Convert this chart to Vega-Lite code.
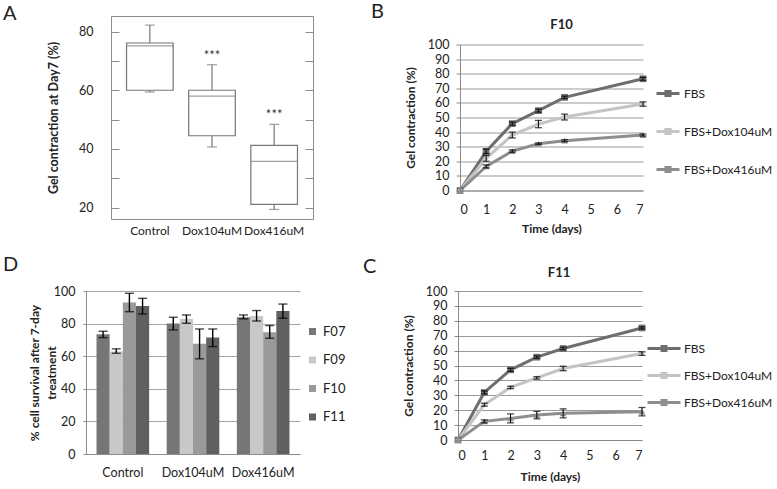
{
  "$schema": "https://vega.github.io/schema/vega-lite/v6.json",
  "padding": {"left": 2, "top": 1, "right": 0, "bottom": 0},
  "background": "white",
  "config": {
    "view": {"stroke": null},
    "font": "Lato",
    "axis": {"labelFont": "Lato", "titleFont": "Lato", "labelColor": "#222222", "titleColor": "#222222", "labelFontSize": 12.5, "titleFontSize": 12, "titleFontWeight": "bold"},
    "legend": {"labelFont": "Lato", "labelFontSize": 12, "labelColor": "#222222"},
    "title": {"font": "Lato", "color": "#222222"}
  },
  "bounds": "full",
  "align": "none",
  "spacing": 18,
  "resolve": {"scale": {"color": "independent", "shape": "independent", "x": "independent", "y": "independent"}, "legend": {"color": "independent", "shape": "independent"}},
  "vconcat": [
    {
      "hconcat": [
        {
          "width": 202,
          "height": 203,
          "view": {"stroke": "#8c8c8c", "strokeWidth": 1},
          "title": {"text": "A", "anchor": "start", "frame": "group", "align": "left", "baseline": "alphabetic", "dx": -108, "offset": 0, "dy": 24, "fontSize": 20, "fontWeight": "normal"},
          "data": {"values": [
            {"group": "Control", "min": 59.4, "q1": 60, "median": 75.1, "q3": 76.1, "max": 82.2, "sig": ""},
            {"group": "Dox104uM", "min": 40.7, "q1": 44.5, "median": 58, "q3": 60, "max": 68.7, "sig": "***"},
            {"group": "Dox416uM", "min": 19.4, "q1": 21.1, "median": 35.8, "q3": 41.2, "max": 48.4, "sig": "***"}
          ]},
          "encoding": {
            "x": {"field": "group", "type": "nominal", "sort": null, "scale": {"paddingInner": 0.25, "paddingOuter": 0.25},
              "axis": {"title": null, "domain": false, "ticks": false, "labelPadding": 6, "labelAngle": 0, "labelFontSize": 12}}
          },
          "layer": [
            {"mark": {"type": "rule", "color": "#777777", "strokeWidth": 1.2},
             "encoding": {
               "y": {"field": "min", "type": "quantitative", "scale": {"domain": [16.15, 85.3], "nice": false, "zero": false},
                 "axis": {"orient": "left", "offset": -8, "title": "Gel contraction at Day7 (%)", "titleFontSize": 12.5, "values": [20, 30, 40, 50, 60, 70, 80], "labelExpr": "datum.value % 20 === 0 ? datum.label : ''", "labelFontSize": 12.5, "tickSize": 8, "tickColor": "#8c8c8c", "domain": false, "grid": false, "labelPadding": 18, "titlePadding": 18}},
               "y2": {"field": "max"}}},
            {"mark": {"type": "bar", "fill": "white", "stroke": "#777777", "strokeWidth": 1.2},
             "encoding": {
               "y": {"field": "q1", "type": "quantitative", "axis": {"orient": "right", "offset": -8, "title": null, "values": [20, 30, 40, 50, 60, 70, 80], "labels": false, "tickSize": 8, "tickColor": "#8c8c8c", "domain": false, "grid": false}},
               "y2": {"field": "q3"}}},
            {"mark": {"type": "tick", "color": "#777777", "size": 46.6, "thickness": 1.2},
             "encoding": {"y": {"field": "median", "type": "quantitative", "axis": null}}},
            {"mark": {"type": "tick", "color": "#777777", "size": 10, "thickness": 1.2},
             "encoding": {"y": {"field": "min", "type": "quantitative", "axis": null}}},
            {"mark": {"type": "tick", "color": "#777777", "size": 10, "thickness": 1.2},
             "encoding": {"y": {"field": "max", "type": "quantitative", "axis": null}}},
            {"transform": [{"filter": "datum.sig !== ''"}],
             "mark": {"type": "text", "baseline": "alphabetic", "dy": -5, "fontSize": 13, "color": "#333333"},
             "encoding": {"y": {"field": "max", "type": "quantitative", "axis": null}, "text": {"field": "sig"}}}
          ],
          "resolve": {"axis": {"y": "independent"}}
        },
        {
          "width": 183,
          "height": 146,
          "title": {"text": "F10", "anchor": "middle", "dx": 10, "baseline": "alphabetic", "offset": 0, "dy": 3, "fontSize": 13, "fontWeight": "bold"},
          "data": {"values": [
            {"day": 0, "series": "FBS", "value": 0, "lo": 0, "hi": 0},
            {"day": 1, "series": "FBS", "value": 26.8, "lo": 25.3, "hi": 28.3},
            {"day": 2, "series": "FBS", "value": 45.8, "lo": 44.8, "hi": 46.8},
            {"day": 3, "series": "FBS", "value": 54.7, "lo": 53.7, "hi": 55.7},
            {"day": 4, "series": "FBS", "value": 63.8, "lo": 63, "hi": 64.6},
            {"day": 7, "series": "FBS", "value": 76.5, "lo": 75.5, "hi": 77.5},
            {"day": 0, "series": "FBS+Dox104uM", "value": 0, "lo": 0, "hi": 0},
            {"day": 1, "series": "FBS+Dox104uM", "value": 22, "lo": 20, "hi": 24},
            {"day": 2, "series": "FBS+Dox104uM", "value": 38, "lo": 36, "hi": 40},
            {"day": 3, "series": "FBS+Dox104uM", "value": 45.5, "lo": 43, "hi": 48},
            {"day": 4, "series": "FBS+Dox104uM", "value": 50.3, "lo": 48.3, "hi": 52.3},
            {"day": 7, "series": "FBS+Dox104uM", "value": 59.2, "lo": 57.7, "hi": 60.7},
            {"day": 0, "series": "FBS+Dox416uM", "value": 0, "lo": 0, "hi": 0},
            {"day": 1, "series": "FBS+Dox416uM", "value": 16.5, "lo": 15.5, "hi": 17.5},
            {"day": 2, "series": "FBS+Dox416uM", "value": 27, "lo": 26.2, "hi": 27.8},
            {"day": 3, "series": "FBS+Dox416uM", "value": 32, "lo": 31.5, "hi": 32.5},
            {"day": 4, "series": "FBS+Dox416uM", "value": 34.1, "lo": 33.4, "hi": 34.8},
            {"day": 7, "series": "FBS+Dox416uM", "value": 38, "lo": 37.3, "hi": 38.7}
          ]},
          "encoding": {
            "x": {"field": "day", "type": "quantitative", "scale": {"domain": [0, 7], "nice": false},
              "axis": {"title": "Time (days)", "values": [0, 1, 2, 3, 4, 5, 6, 7], "format": "d", "grid": false, "ticks": false, "domainColor": "#8a8a8a", "labelPadding": 13, "titlePadding": 7}}
          },
          "layer": [
            {"mark": {"type": "line", "strokeWidth": 3},
             "encoding": {
               "y": {"field": "value", "type": "quantitative", "scale": {"domain": [0, 100], "nice": false},
                 "axis": {"title": "Gel contraction (%)", "values": [0, 10, 20, 30, 40, 50, 60, 70, 80, 90, 100], "grid": true, "gridColor": "#9a9a9a", "domainColor": "#8a8a8a", "tickColor": "#8a8a8a", "tickSize": 4, "labelPadding": 7, "titlePadding": 10}},
               "color": {"field": "series", "type": "nominal", "sort": null,
                 "scale": {"domain": ["FBS", "FBS+Dox104uM", "FBS+Dox416uM"], "range": ["#6e6e6e", "#c4c4c4", "#8e8e8e"]},
                 "legend": {"orient": "none", "legendX": 195, "legendY": 36, "title": null, "padding": 0, "symbolType": "M-1,0H1M-0.18,-0.18H0.18V0.18H-0.18Z", "symbolSize": 529, "symbolStrokeWidth": 3, "labelOffset": 3, "rowPadding": 16}}}},
            {"transform": [{"filter": "datum.series === 'FBS'"}],
             "mark": {"type": "point", "shape": "square", "filled": true, "opacity": 1, "size": 45},
             "encoding": {"y": {"field": "value", "type": "quantitative", "axis": null},
               "color": {"field": "series", "type": "nominal", "scale": {"domain": ["FBS", "FBS+Dox104uM", "FBS+Dox416uM"], "range": ["#6e6e6e", "#c4c4c4", "#8e8e8e"]}, "legend": null}}},
            {"transform": [{"filter": "datum.series === 'FBS+Dox104uM'"}],
             "mark": {"type": "point", "shape": "diamond", "filled": true, "opacity": 1, "size": 30},
             "encoding": {"y": {"field": "value", "type": "quantitative", "axis": null},
               "color": {"field": "series", "type": "nominal", "scale": {"domain": ["FBS", "FBS+Dox104uM", "FBS+Dox416uM"], "range": ["#6e6e6e", "#c4c4c4", "#8e8e8e"]}, "legend": null}}},
            {"transform": [{"filter": "datum.series === 'FBS+Dox416uM'"}],
             "mark": {"type": "point", "shape": "triangle-up", "filled": true, "opacity": 1, "size": 45},
             "encoding": {"y": {"field": "value", "type": "quantitative", "axis": null},
               "color": {"field": "series", "type": "nominal", "scale": {"domain": ["FBS", "FBS+Dox104uM", "FBS+Dox416uM"], "range": ["#6e6e6e", "#c4c4c4", "#8e8e8e"]}, "legend": null}}},
            {"transform": [{"filter": "datum.day > 0"}],
             "mark": {"type": "rule", "color": "black", "strokeWidth": 1},
             "encoding": {"y": {"field": "lo", "type": "quantitative", "axis": null}, "y2": {"field": "hi"}}},
            {"transform": [{"filter": "datum.day > 0"}],
             "mark": {"type": "tick", "orient": "horizontal", "color": "black", "size": 7, "thickness": 1.3},
             "encoding": {"y": {"field": "lo", "type": "quantitative", "axis": null}}},
            {"transform": [{"filter": "datum.day > 0"}],
             "mark": {"type": "tick", "orient": "horizontal", "color": "black", "size": 7, "thickness": 1.3},
             "encoding": {"y": {"field": "hi", "type": "quantitative", "axis": null}}}
          ],
          "resolve": {"axis": {"y": "independent"}}
        }
      ],
      "spacing": 147,
      "bounds": "flush",
      "center": true,
      "resolve": {"scale": {"color": "independent", "shape": "independent", "x": "independent", "y": "independent"}, "legend": {"color": "independent", "shape": "independent"}},
      "title": {"text": "B", "anchor": "start", "frame": "group", "align": "left", "baseline": "alphabetic", "dx": 260, "offset": 0, "dy": 34, "fontSize": 20, "fontWeight": "normal"}
    },
    {
      "hconcat": [
        {
          "width": 189,
          "height": 163,
          "title": {"text": "D", "anchor": "start", "frame": "group", "align": "left", "baseline": "alphabetic", "dx": -108, "offset": 0, "dy": 6, "fontSize": 20, "fontWeight": "normal"},
          "data": {"values": [
            {"group": "Control", "series": "F07", "value": 73.5, "lo": 71.4, "hi": 75.3},
            {"group": "Control", "series": "F09", "value": 62.9, "lo": 61.8, "hi": 64.5},
            {"group": "Control", "series": "F10", "value": 93, "lo": 87.3, "hi": 98.6},
            {"group": "Control", "series": "F11", "value": 90.8, "lo": 85.9, "hi": 95.5},
            {"group": "Dox104uM", "series": "F07", "value": 80, "lo": 76.1, "hi": 83.9},
            {"group": "Dox104uM", "series": "F09", "value": 82.9, "lo": 80.2, "hi": 85.3},
            {"group": "Dox104uM", "series": "F10", "value": 67.6, "lo": 58.4, "hi": 76.7},
            {"group": "Dox104uM", "series": "F11", "value": 71.4, "lo": 65.9, "hi": 76.7},
            {"group": "Dox416uM", "series": "F07", "value": 83.9, "lo": 82.9, "hi": 85.3},
            {"group": "Dox416uM", "series": "F09", "value": 84.7, "lo": 81.6, "hi": 88},
            {"group": "Dox416uM", "series": "F10", "value": 74.7, "lo": 71, "hi": 78.8},
            {"group": "Dox416uM", "series": "F11", "value": 87.8, "lo": 83.3, "hi": 92}
          ]},
          "encoding": {
            "x": {"field": "group", "type": "nominal", "sort": null, "scale": {"range": [-25, 189], "paddingInner": 0.25, "paddingOuter": 0.15},
              "axis": {"title": null, "labelAngle": 0, "ticks": false, "domainColor": "#8c8c8c", "labelPadding": 12, "labelFontSize": 12.5}},
            "xOffset": {"field": "series", "type": "nominal", "sort": null, "scale": {"paddingInner": 0, "paddingOuter": 0}}
          },
          "layer": [
            {"mark": {"type": "bar"},
             "encoding": {
               "y": {"field": "value", "type": "quantitative", "scale": {"domain": [0, 100], "nice": false},
                 "axis": {"offset": 25, "title": ["% cell survival after 7-day", "treatment"], "titleLineHeight": 17, "values": [0, 20, 40, 60, 80, 100], "grid": true, "gridColor": "#a6a6a6", "domainColor": "#8c8c8c", "tickColor": "#8c8c8c", "tickSize": 3, "labelPadding": 8, "titlePadding": -5}},
               "color": {"field": "series", "type": "nominal", "sort": null,
                 "scale": {"domain": ["F07", "F09", "F10", "F11"], "range": ["#767676", "#c8c8c8", "#9a9a9a", "#606060"]},
                 "legend": {"orient": "none", "legendX": 195, "legendY": 34, "title": null, "padding": 0, "symbolType": "square", "symbolSize": 49, "labelOffset": 4, "labelFontSize": 13, "rowPadding": 14.5}}}},
            {"mark": {"type": "rule", "color": "black", "strokeWidth": 1.4},
             "encoding": {"y": {"field": "lo", "type": "quantitative", "axis": null}, "y2": {"field": "hi"}}},
            {"mark": {"type": "tick", "color": "black", "size": 9, "thickness": 1.4},
             "encoding": {"y": {"field": "lo", "type": "quantitative", "axis": null}}},
            {"mark": {"type": "tick", "color": "black", "size": 9, "thickness": 1.4},
             "encoding": {"y": {"field": "hi", "type": "quantitative", "axis": null}}}
          ],
          "resolve": {"axis": {"y": "independent"}}
        },
        {
          "width": 184,
          "height": 149,
          "title": {"text": "F11", "anchor": "middle", "dx": 9, "baseline": "alphabetic", "offset": 0, "dy": 5, "fontSize": 13, "fontWeight": "bold"},
          "data": {"values": [
            {"day": 0, "series": "FBS", "value": 0, "lo": 0, "hi": 0},
            {"day": 1, "series": "FBS", "value": 31.9, "lo": 30.9, "hi": 32.9},
            {"day": 2, "series": "FBS", "value": 47.1, "lo": 46.1, "hi": 48.1},
            {"day": 3, "series": "FBS", "value": 55.6, "lo": 54.8, "hi": 56.4},
            {"day": 4, "series": "FBS", "value": 61.4, "lo": 60.6, "hi": 62.2},
            {"day": 7, "series": "FBS", "value": 75.2, "lo": 74.5, "hi": 75.9},
            {"day": 0, "series": "FBS+Dox104uM", "value": 0, "lo": 0, "hi": 0},
            {"day": 1, "series": "FBS+Dox104uM", "value": 23.7, "lo": 22.7, "hi": 24.7},
            {"day": 2, "series": "FBS+Dox104uM", "value": 35.3, "lo": 34.5, "hi": 36.1},
            {"day": 3, "series": "FBS+Dox104uM", "value": 41.7, "lo": 40.9, "hi": 42.5},
            {"day": 4, "series": "FBS+Dox104uM", "value": 48, "lo": 46.5, "hi": 49.5},
            {"day": 7, "series": "FBS+Dox104uM", "value": 58, "lo": 56.8, "hi": 59.2},
            {"day": 0, "series": "FBS+Dox416uM", "value": 0, "lo": 0, "hi": 0},
            {"day": 1, "series": "FBS+Dox416uM", "value": 12.5, "lo": 11.5, "hi": 13.5},
            {"day": 2, "series": "FBS+Dox416uM", "value": 14.5, "lo": 11.5, "hi": 17.5},
            {"day": 3, "series": "FBS+Dox416uM", "value": 16.7, "lo": 14.2, "hi": 19.2},
            {"day": 4, "series": "FBS+Dox416uM", "value": 17.9, "lo": 14.9, "hi": 20.9},
            {"day": 7, "series": "FBS+Dox416uM", "value": 19, "lo": 16.2, "hi": 21.8}
          ]},
          "encoding": {
            "x": {"field": "day", "type": "quantitative", "scale": {"domain": [0, 7], "nice": false},
              "axis": {"title": "Time (days)", "values": [0, 1, 2, 3, 4, 5, 6, 7], "format": "d", "grid": false, "ticks": false, "domainColor": "#8a8a8a", "labelPadding": 9, "titlePadding": 10}}
          },
          "layer": [
            {"mark": {"type": "line", "strokeWidth": 3},
             "encoding": {
               "y": {"field": "value", "type": "quantitative", "scale": {"domain": [0, 100], "nice": false},
                 "axis": {"title": "Gel contraction (%)", "values": [0, 10, 20, 30, 40, 50, 60, 70, 80, 90, 100], "grid": true, "gridColor": "#9a9a9a", "domainColor": "#8a8a8a", "tickColor": "#8a8a8a", "tickSize": 4, "labelPadding": 7, "titlePadding": 10}},
               "color": {"field": "series", "type": "nominal", "sort": null,
                 "scale": {"domain": ["FBS", "FBS+Dox104uM", "FBS+Dox416uM"], "range": ["#6e6e6e", "#c4c4c4", "#8e8e8e"]},
                 "legend": {"orient": "none", "legendX": 188, "legendY": 39.5, "title": null, "padding": 0, "symbolType": "M-1,0H1M-0.12,-0.12H0.12V0.12H-0.12Z", "symbolSize": 1089, "symbolStrokeWidth": 3, "labelOffset": 2, "rowPadding": 1}}}},
            {"transform": [{"filter": "datum.series === 'FBS'"}],
             "mark": {"type": "point", "shape": "square", "filled": true, "opacity": 1, "size": 45},
             "encoding": {"y": {"field": "value", "type": "quantitative", "axis": null},
               "color": {"field": "series", "type": "nominal", "scale": {"domain": ["FBS", "FBS+Dox104uM", "FBS+Dox416uM"], "range": ["#6e6e6e", "#c4c4c4", "#8e8e8e"]}, "legend": null}}},
            {"transform": [{"filter": "datum.series === 'FBS+Dox104uM'"}],
             "mark": {"type": "point", "shape": "diamond", "filled": true, "opacity": 1, "size": 30},
             "encoding": {"y": {"field": "value", "type": "quantitative", "axis": null},
               "color": {"field": "series", "type": "nominal", "scale": {"domain": ["FBS", "FBS+Dox104uM", "FBS+Dox416uM"], "range": ["#6e6e6e", "#c4c4c4", "#8e8e8e"]}, "legend": null}}},
            {"transform": [{"filter": "datum.series === 'FBS+Dox416uM'"}],
             "mark": {"type": "point", "shape": "triangle-up", "filled": true, "opacity": 1, "size": 45},
             "encoding": {"y": {"field": "value", "type": "quantitative", "axis": null},
               "color": {"field": "series", "type": "nominal", "scale": {"domain": ["FBS", "FBS+Dox104uM", "FBS+Dox416uM"], "range": ["#6e6e6e", "#c4c4c4", "#8e8e8e"]}, "legend": null}}},
            {"transform": [{"filter": "datum.day > 0"}],
             "mark": {"type": "rule", "color": "black", "strokeWidth": 1},
             "encoding": {"y": {"field": "lo", "type": "quantitative", "axis": null}, "y2": {"field": "hi"}}},
            {"transform": [{"filter": "datum.day > 0"}],
             "mark": {"type": "tick", "orient": "horizontal", "color": "black", "size": 7, "thickness": 1.3},
             "encoding": {"y": {"field": "lo", "type": "quantitative", "axis": null}}},
            {"transform": [{"filter": "datum.day > 0"}],
             "mark": {"type": "tick", "orient": "horizontal", "color": "black", "size": 7, "thickness": 1.3},
             "encoding": {"y": {"field": "hi", "type": "quantitative", "axis": null}}}
          ],
          "resolve": {"axis": {"y": "independent"}}
        }
      ],
      "spacing": 158,
      "bounds": "flush",
      "resolve": {"scale": {"color": "independent", "shape": "independent", "x": "independent", "y": "independent"}, "legend": {"color": "independent", "shape": "independent"}},
      "title": {"text": "C", "anchor": "start", "frame": "group", "align": "left", "baseline": "alphabetic", "dx": 252, "offset": 0, "dy": 38, "fontSize": 20, "fontWeight": "normal"}
    }
  ]
}
